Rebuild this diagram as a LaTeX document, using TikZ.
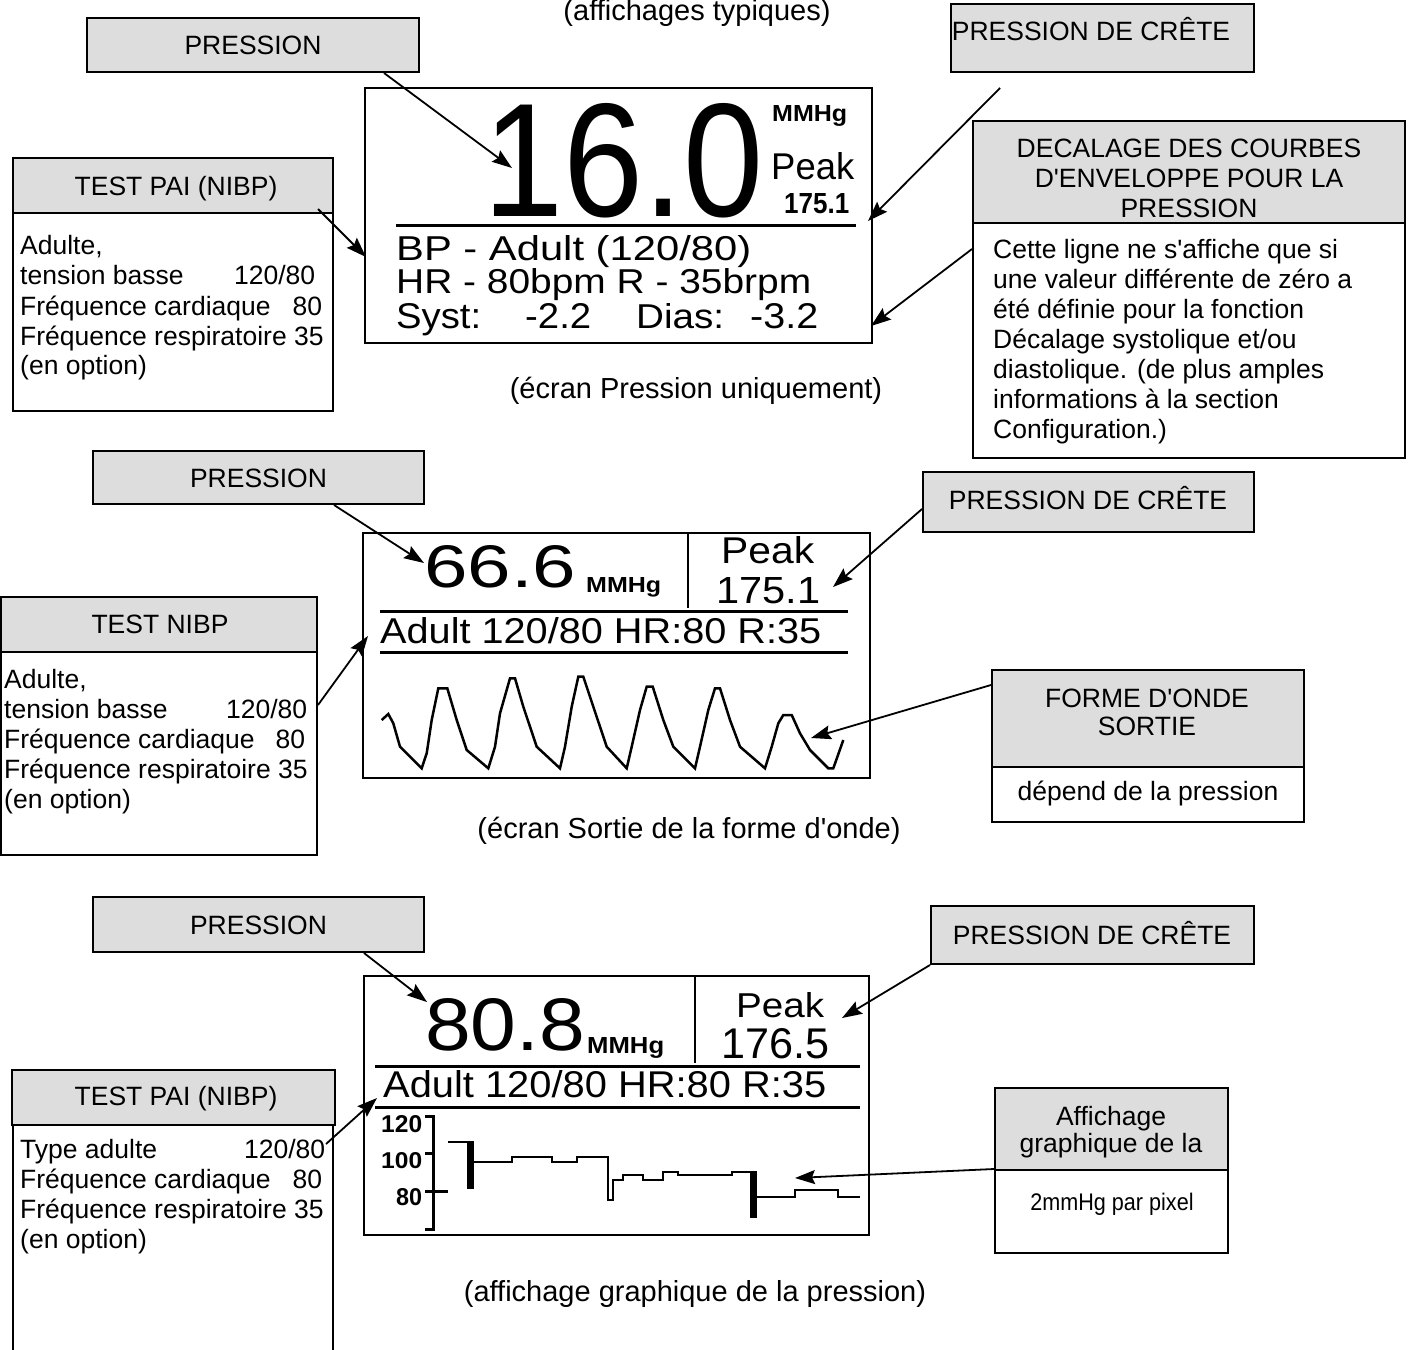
\documentclass[tikz,border=0pt]{standalone}
\usepackage{fontspec}
\setmainfont{Liberation Sans}
\usepackage{graphicx}
\usetikzlibrary{arrows.meta}
\definecolor{boxgray}{RGB}{221,221,221}
\newcommand{\lcdbox}[3]{\resizebox{#1pt}{#2pt}{#3}}
\newcommand{\ap}{\textquotesingle}
\begin{document}
\begin{tikzpicture}[x=1pt,y=-1pt,
  lab/.style={font=\fontsize{26.5}{30}\selectfont, inner sep=0pt},
  capt/.style={font=\fontsize{29}{34}\selectfont, inner sep=0pt},
  narrow/.style={font=\fontsize{24}{28}\selectfont, inner sep=0pt},
  lcd/.style={inner sep=0pt, anchor=base west, text depth=0pt},
  gbox/.style={draw=black, line width=2pt, fill=boxgray, inner sep=0pt},
  wbox/.style={draw=black, line width=2pt, fill=white, inner sep=0pt},
  scr/.style={draw=black, line width=2.5pt, fill=white, inner sep=0pt},
  arr/.style={line width=1.8pt, -{Stealth[length=20pt,width=14pt,inset=3pt]}},
  lcdrule/.style={line width=3pt},
  trace/.style={line width=2.5pt},
]
\useasboundingbox (0,0) rectangle (1412,1349);
\fill[white] (0,0) rectangle (1412,1349);

% ---------------- captions
\node[capt, anchor=base] (cap0) at (697,20) {(affichages typiques)};
\node[capt, anchor=base] (cap1) at (696,398) {(écran Pression uniquement)};
\node[capt, anchor=base] (cap2) at (689,838) {(écran Sortie de la forme d\ap onde)};
\node[capt, anchor=base] (cap3) at (695,1301) {(affichage graphique de la pression)};

% ---------------- screen 1
\node[scr, minimum width=507pt, minimum height=255pt] (s1) at (618.5,215.5) {};
\node[lcd] (n16) at (483,216) {\lcdbox{280}{113}{16.0}};
\node[lcd] (u1) at (772,121) {\lcdbox{75}{16}{\bfseries MMHg}};
\node[lcd] (pk1) at (771,179) {\lcdbox{83}{27}{Peak}};
\node[lcd] (pv1) at (784,213) {\lcdbox{65}{20}{\bfseries 175.1}};
\draw[lcdrule] (396,225) -- (856,225);
\node[lcd] (bp1) at (396,260) {\lcdbox{355}{25}{BP - Adult (120/80)}};
\node[lcd] (hr1) at (396,293) {\lcdbox{415}{25}{HR - 80bpm R - 35brpm}};
\node[lcd] (sy1) at (396,328) {\lcdbox{85}{25}{Syst:}};
\node[lcd] (sy2) at (525,328) {\lcdbox{66}{25}{-2.2}};
\node[lcd] (di1) at (636,328) {\lcdbox{88}{25}{Dias:}};
\node[lcd] (di2) at (750,328) {\lcdbox{68}{25}{-3.2}};

% ---------------- screen 2
\node[scr, minimum width=507pt, minimum height=245pt] (s2) at (616.5,655.5) {};
\node[lcd] (n66) at (424,587) {\lcdbox{152}{42}{66.6}};
\node[lcd] (u2) at (586,592) {\lcdbox{75}{15}{\bfseries MMHg}};
\draw[line width=2.5pt] (688,533) -- (688,608);
\node[lcd] (pk2) at (721,563) {\lcdbox{93}{27}{Peak}};
\node[lcd] (pv2) at (716,603) {\lcdbox{104}{26}{175.1}};
\draw[lcdrule] (380,611) -- (848,611);
\node[lcd] (ad2) at (380,643) {\lcdbox{441}{26}{Adult 120/80 HR:80 R:35}};
\draw[lcdrule] (380,652) -- (848,652);
\draw[trace] (381.7,720) -- (388.3,714) -- (393.3,723.3) -- (400,746.7) -- (410,756.7)
  -- (421.7,768.3) -- (426.7,753.3) -- (431.7,720) -- (438.3,688.3) -- (447.3,688.3)
  -- (456.7,720) -- (466.7,750) -- (488.3,768.3) -- (495,746.7) -- (500,713.3)
  -- (510,678.3) -- (515,678.3) -- (523.3,706.7) -- (536.7,746.7) -- (560,768.3)
  -- (565,746.7) -- (571.7,706.7) -- (578.3,676.7) -- (583.3,676.7) -- (593.3,706.7)
  -- (606.7,746.7) -- (626.7,768.3) -- (631.7,746.7) -- (640,710) -- (646.7,686.7)
  -- (652.7,686.7) -- (663.3,720) -- (673.3,746.7) -- (695,768.3) -- (700,746.7)
  -- (708.3,710) -- (715,688.3) -- (720,688.3) -- (730,720) -- (740,746.7)
  -- (765,768.3) -- (771.7,746.7) -- (778.3,723.3) -- (783.3,715) -- (791.7,715)
  -- (800,733.3) -- (810,750) -- (828.3,768.3) -- (833.3,768.3) -- (843.3,740);

% ---------------- screen 3
\node[scr, minimum width=505pt, minimum height=259pt] (s3) at (616.5,1105.5) {};
\node[lcd] (n80) at (425,1050) {\lcdbox{160}{52}{80.8}};
\node[lcd] (u3) at (587,1053) {\lcdbox{77}{16}{\bfseries MMHg}};
\draw[line width=2.5pt] (695,976) -- (695,1063);
\node[lcd] (pk3) at (736,1017) {\lcdbox{88}{25}{Peak}};
\node[lcd] (pv3) at (721,1058) {\lcdbox{108}{30}{176.5}};
\draw[lcdrule] (375,1066) -- (860,1066);
\node[lcd] (ad3) at (383,1097) {\lcdbox{443}{27}{Adult 120/80 HR:80 R:35}};
\draw[lcdrule] (375,1107) -- (860,1107);
\node[lcd] (y120) at (381,1132) {\lcdbox{41}{17}{\bfseries 120}};
\node[lcd] (y100) at (381,1168) {\lcdbox{41}{16}{\bfseries 100}};
\node[lcd] (y80) at (396,1205) {\lcdbox{26}{17}{\bfseries 80}};
\draw[line width=3pt] (425,1116) -- (433.5,1116) -- (433.5,1229) -- (425,1229);
\draw[line width=3pt] (425,1153) -- (433.5,1153);
\draw[line width=3pt] (425,1191) -- (448,1191);
\draw[trace] (448,1142) -- (470,1142);
\fill (467,1141) rectangle (474,1189);
\draw[trace] (473,1162) -- (512,1162) -- (512,1157) -- (552,1157) -- (552,1162) -- (577,1162)
  -- (577,1157) -- (608,1157) -- (608,1200) -- (613,1200) -- (613,1180) -- (623,1180)
  -- (623,1175) -- (643,1175) -- (643,1180) -- (663,1180) -- (663,1172) -- (678,1172)
  -- (678,1175) -- (732,1175) -- (732,1172) -- (752,1172);
\fill (750,1171) rectangle (757,1218);
\draw[trace] (757,1197) -- (795,1197) -- (795,1190) -- (838,1190) -- (838,1197) -- (860,1197);

% ---------------- label boxes, top section
\node[gbox, minimum width=332pt, minimum height=54pt] (pr1) at (253,45) {};
\node[lab, anchor=base] (pr1t) at (253,54) {PRESSION};
\node[gbox, minimum width=303pt, minimum height=68pt] (cr1) at (1102.5,38) {};
\node[lab, anchor=base] (cr1t) at (1091,40) {PRESSION DE CRÊTE};

\node[gbox, minimum width=320pt, minimum height=55pt] (t1h) at (173,185.5) {};
\node[lab, anchor=base] (t1ht) at (176,195) {TEST PAI (NIBP)};
\node[wbox, minimum width=320pt, minimum height=198pt] (t1b) at (173,312) {};
\node[lab, anchor=base west] (t1l1) at (20,254) {Adulte,};
\node[lab, anchor=base west] (t1l2) at (20,284) {\makebox[295pt]{tension basse\hfill 120/80}};
\node[lab, anchor=base west] (t1l3) at (20,315) {\makebox[302pt]{Fréquence cardiaque\hfill 80}};
\node[lab, anchor=base west] (t1l4) at (20,345) {Fréquence respiratoire 35};
\node[lab, anchor=base west] (t1l5) at (20,374) {(en option)};

\node[gbox, minimum width=432pt, minimum height=102pt] (dech) at (1189,172) {};
\node[lab, anchor=base] (decl1) at (1189,157) {DECALAGE DES COURBES};
\node[lab, anchor=base] (decl2) at (1189,187) {D\ap ENVELOPPE POUR LA};
\node[lab, anchor=base] (decl3) at (1189,217) {PRESSION};
\node[wbox, minimum width=432pt, minimum height=235pt] (decb) at (1189,340.5) {};
\node[lab, anchor=base west] (db1) at (993,258) {Cette ligne ne s\ap affiche que si};
\node[lab, anchor=base west] (db2) at (993,288) {une valeur différente de zéro a};
\node[lab, anchor=base west] (db3) at (993,318) {été définie pour la fonction};
\node[lab, anchor=base west] (db4) at (993,348) {Décalage systolique et/ou};
\node[lab, anchor=base west] (db5) at (993,378) {diastolique. (de plus amples};
\node[lab, anchor=base west] (db6) at (993,408) {informations à la section};
\node[lab, anchor=base west] (db7) at (993,438) {Configuration.)};

% ---------------- label boxes, middle section
\node[gbox, minimum width=331pt, minimum height=53pt] (pr2) at (258.5,477.5) {};
\node[lab, anchor=base] (pr2t) at (258.5,487) {PRESSION};
\node[gbox, minimum width=331pt, minimum height=60pt] (cr2) at (1088.5,502) {};
\node[lab, anchor=base] (cr2t) at (1088,509) {PRESSION DE CRÊTE};

\node[gbox, minimum width=316pt, minimum height=55pt] (t2h) at (159,624.5) {};
\node[lab, anchor=base] (t2ht) at (160,633) {TEST NIBP};
\node[wbox, minimum width=316pt, minimum height=203pt] (t2b) at (159,753.5) {};
\node[lab, anchor=base west] (t2l1) at (4,688) {Adulte,};
\node[lab, anchor=base west] (t2l2) at (4,718) {\makebox[303pt]{tension basse\hfill 120/80}};
\node[lab, anchor=base west] (t2l3) at (4,748) {\makebox[301pt]{Fréquence cardiaque\hfill 80}};
\node[lab, anchor=base west] (t2l4) at (4,778) {Fréquence respiratoire 35};
\node[lab, anchor=base west] (t2l5) at (4,808) {(en option)};

\node[gbox, minimum width=312pt, minimum height=97pt] (foh) at (1148,718.5) {};
\node[lab, anchor=base] (fo1) at (1147,707) {FORME D\ap ONDE};
\node[lab, anchor=base] (fo2) at (1147,735) {SORTIE};
\node[wbox, minimum width=312pt, minimum height=55pt] (fob) at (1148,794.5) {};
\node[lab, anchor=base] (fo3) at (1148,800) {dépend de la pression};

% ---------------- label boxes, bottom section
\node[gbox, minimum width=331pt, minimum height=55pt] (pr3) at (258.5,924.5) {};
\node[lab, anchor=base] (pr3t) at (258.5,934) {PRESSION};
\node[gbox, minimum width=323pt, minimum height=58pt] (cr3) at (1092.5,935) {};
\node[lab, anchor=base] (cr3t) at (1092,944) {PRESSION DE CRÊTE};

\node[gbox, minimum width=323pt, minimum height=55pt] (t3h) at (173.5,1097.5) {};
\node[lab, anchor=base] (t3ht) at (176,1105) {TEST PAI (NIBP)};
\node[wbox, minimum width=320pt, minimum height=240pt] (t3b) at (173,1245) {};
\node[lab, anchor=base west] (t3l1) at (20,1158) {\makebox[305pt]{Type adulte\hfill 120/80}};
\node[lab, anchor=base west] (t3l2) at (20,1188) {\makebox[302pt]{Fréquence cardiaque\hfill 80}};
\node[lab, anchor=base west] (t3l3) at (20,1218) {Fréquence respiratoire 35};
\node[lab, anchor=base west] (t3l4) at (20,1248) {(en option)};

\node[gbox, minimum width=233pt, minimum height=82pt] (afh) at (1111.5,1129) {};
\node[lab, anchor=base] (af1) at (1111,1125) {Affichage};
\node[lab, anchor=base] (af2) at (1111,1152) {graphique de la};
\node[wbox, minimum width=233pt, minimum height=83pt] (afb) at (1111.5,1211.5) {};
\node[narrow, anchor=base] (af3) at (1112,1210) {\scalebox{0.9}[1]{2mmHg par pixel}};

% ---------------- connectors
\coordinate (tip1) at (512,168);
\coordinate (tip2) at (366,257);
\coordinate (c1s) at (1000,88);
\coordinate (tip3) at (868,221);
\coordinate (tip4) at (871,326);
\coordinate (tip5) at (424,563);
\coordinate (tip6) at (368,636);
\coordinate (tip7) at (833,587);
\coordinate (tip8) at (811,738);
\coordinate (tip9) at (427,1002);
\coordinate (tip10) at (842,1018);
\coordinate (tip11) at (377,1098);
\coordinate (tip12) at (795,1178);

\draw[arr] ([xshift=-36pt]pr1.south east) -- (tip1);
\draw[arr] ([xshift=-16pt,yshift=5pt]t1h.south east) -- (tip2);
\draw[arr] (c1s) -- (tip3);
\draw[arr] ([yshift=-27pt]decb.north west) -- (tip4);
\draw[arr] ([xshift=-91pt]pr2.south east) -- (tip5);
\draw[arr] ([yshift=48.5pt]t2b.east) -- (tip6);
\draw[arr] ([yshift=-7pt]cr2.west) -- (tip7);
\draw[arr] ([yshift=-16pt]foh.north west) -- (tip8);
\draw[arr] ([xshift=-61pt]pr3.south east) -- (tip9);
\draw[arr] (cr3.south west) -- (tip10);
\draw[arr] ([xshift=-8pt,yshift=-20pt]t3b.north east) -- (tip11);
\draw[arr] (afb.north west) -- (tip12);
\end{tikzpicture}
\end{document}
